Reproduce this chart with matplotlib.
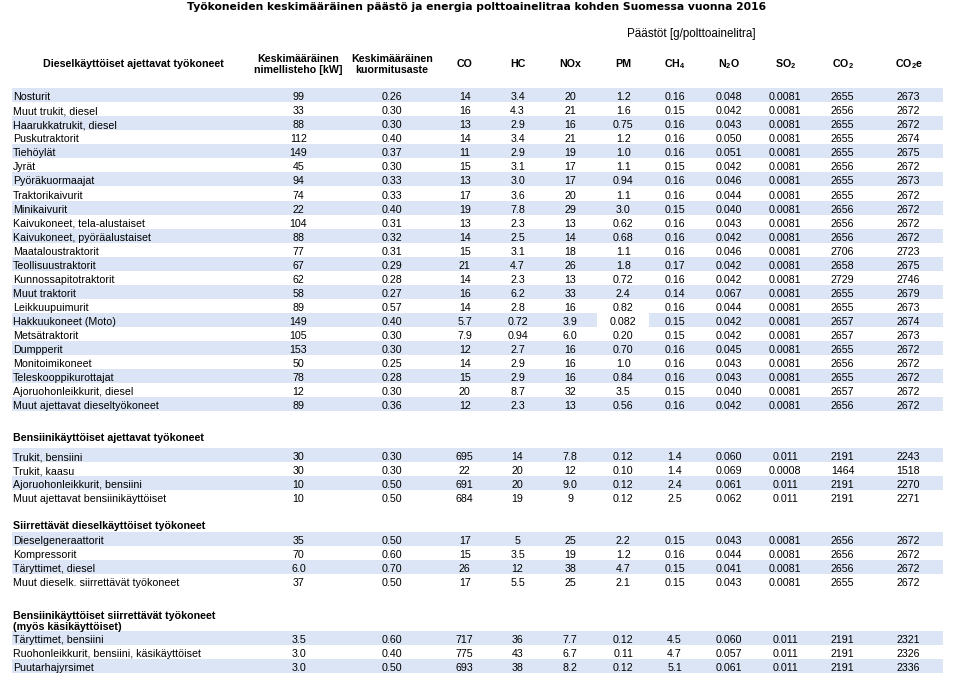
import matplotlib
matplotlib.use("Agg")
import matplotlib.pyplot as plt
from matplotlib.patches import Rectangle

plt.rcParams['font.family'] = ['Liberation Sans', 'DejaVu Sans']
plt.rcParams['mathtext.fontset'] = 'custom'
plt.rcParams['mathtext.rm'] = 'Liberation Sans'
plt.rcParams['mathtext.it'] = 'Liberation Sans:italic'
plt.rcParams['mathtext.bf'] = 'Liberation Sans:bold'
plt.rcParams['mathtext.default'] = 'regular'

# ---------------- data ----------------
title = "Työkoneiden keskimääräinen päästö ja energia polttoainelitraa kohden Suomessa vuonna 2016"
unit_label = "Päästöt [g/polttoainelitra]"
first_header = "Dieselkäyttöiset ajettavat työkoneet"
col_headers = ["Keskimääräinen\nnimellisteho [kW]", "Keskimääräinen\nkuormitusaste",
               "CO", "HC", "NOx", "PM", "CH$_4$", "N$_2$O", "SO$_2$", "CO$_2$", "CO$_2$e"]

diesel_names = ["Nosturit", "Muut trukit, diesel", "Haarukkatrukit, diesel", "Puskutraktorit",
                "Tiehöylät", "Jyrät", "Pyöräkuormaajat", "Traktorikaivurit", "Minikaivurit",
                "Kaivukoneet, tela-alustaiset", "Kaivukoneet, pyöräalustaiset", "Maataloustraktorit",
                "Teollisuustraktorit", "Kunnossapitotraktorit", "Muut traktorit", "Leikkuupuimurit",
                "Hakkuukoneet (Moto)", "Metsätraktorit", "Dumpperit", "Monitoimikoneet",
                "Teleskooppikurottajat", "Ajoruohonleikkurit, diesel", "Muut ajettavat dieseltyökoneet"]
diesel_values = [
    ["99", "0.26", "14", "3.4", "20", "1.2", "0.16", "0.048", "0.0081", "2655", "2673"],
    ["33", "0.30", "16", "4.3", "21", "1.6", "0.15", "0.042", "0.0081", "2656", "2672"],
    ["88", "0.30", "13", "2.9", "16", "0.75", "0.16", "0.043", "0.0081", "2655", "2672"],
    ["112", "0.40", "14", "3.4", "21", "1.2", "0.16", "0.050", "0.0081", "2655", "2674"],
    ["149", "0.37", "11", "2.9", "19", "1.0", "0.16", "0.051", "0.0081", "2655", "2675"],
    ["45", "0.30", "15", "3.1", "17", "1.1", "0.15", "0.042", "0.0081", "2656", "2672"],
    ["94", "0.33", "13", "3.0", "17", "0.94", "0.16", "0.046", "0.0081", "2655", "2673"],
    ["74", "0.33", "17", "3.6", "20", "1.1", "0.16", "0.044", "0.0081", "2655", "2672"],
    ["22", "0.40", "19", "7.8", "29", "3.0", "0.15", "0.040", "0.0081", "2656", "2672"],
    ["104", "0.31", "13", "2.3", "13", "0.62", "0.16", "0.043", "0.0081", "2656", "2672"],
    ["88", "0.32", "14", "2.5", "14", "0.68", "0.16", "0.042", "0.0081", "2656", "2672"],
    ["77", "0.31", "15", "3.1", "18", "1.1", "0.16", "0.046", "0.0081", "2706", "2723"],
    ["67", "0.29", "21", "4.7", "26", "1.8", "0.17", "0.042", "0.0081", "2658", "2675"],
    ["62", "0.28", "14", "2.3", "13", "0.72", "0.16", "0.042", "0.0081", "2729", "2746"],
    ["58", "0.27", "16", "6.2", "33", "2.4", "0.14", "0.067", "0.0081", "2655", "2679"],
    ["89", "0.57", "14", "2.8", "16", "0.82", "0.16", "0.044", "0.0081", "2655", "2673"],
    ["149", "0.40", "5.7", "0.72", "3.9", "0.082", "0.15", "0.042", "0.0081", "2657", "2674"],
    ["105", "0.30", "7.9", "0.94", "6.0", "0.20", "0.15", "0.042", "0.0081", "2657", "2673"],
    ["153", "0.30", "12", "2.7", "16", "0.70", "0.16", "0.045", "0.0081", "2655", "2672"],
    ["50", "0.25", "14", "2.9", "16", "1.0", "0.16", "0.043", "0.0081", "2656", "2672"],
    ["78", "0.28", "15", "2.9", "16", "0.84", "0.16", "0.043", "0.0081", "2655", "2672"],
    ["12", "0.30", "20", "8.7", "32", "3.5", "0.15", "0.040", "0.0081", "2657", "2672"],
    ["89", "0.36", "12", "2.3", "13", "0.56", "0.16", "0.042", "0.0081", "2656", "2672"],
]

petrol_title = "Bensiinikäyttöiset ajettavat työkoneet"
petrol_names = ["Trukit, bensiini", "Trukit, kaasu", "Ajoruohonleikkurit, bensiini",
                "Muut ajettavat bensiinikäyttöiset"]
petrol_values = [
    ["30", "0.30", "695", "14", "7.8", "0.12", "1.4", "0.060", "0.011", "2191", "2243"],
    ["30", "0.30", "22", "20", "12", "0.10", "1.4", "0.069", "0.0008", "1464", "1518"],
    ["10", "0.50", "691", "20", "9.0", "0.12", "2.4", "0.061", "0.011", "2191", "2270"],
    ["10", "0.50", "684", "19", "9", "0.12", "2.5", "0.062", "0.011", "2191", "2271"],
]

mobile_diesel_title = "Siirrettävät dieselkäyttöiset työkoneet"
mobile_diesel_names = ["Dieselgeneraattorit", "Kompressorit", "Täryttimet, diesel",
                       "Muut dieselk. siirrettävät työkoneet"]
mobile_diesel_values = [
    ["35", "0.50", "17", "5", "25", "2.2", "0.15", "0.043", "0.0081", "2656", "2672"],
    ["70", "0.60", "15", "3.5", "19", "1.2", "0.16", "0.044", "0.0081", "2656", "2672"],
    ["6.0", "0.70", "26", "12", "38", "4.7", "0.15", "0.041", "0.0081", "2656", "2672"],
    ["37", "0.50", "17", "5.5", "25", "2.1", "0.15", "0.043", "0.0081", "2655", "2672"],
]

mobile_petrol_title = "Bensiinikäyttöiset siirrettävät työkoneet\n(myös käsikäyttöiset)"
mobile_petrol_names = ["Täryttimet, bensiini", "Ruohonleikkurit, bensiini, käsikäyttöiset",
                       "Puutarhajyrsimet"]
mobile_petrol_values = [
    ["3.5", "0.60", "717", "36", "7.7", "0.12", "4.5", "0.060", "0.011", "2191", "2321"],
    ["3.0", "0.40", "775", "43", "6.7", "0.11", "4.7", "0.057", "0.011", "2191", "2326"],
    ["3.0", "0.50", "693", "38", "8.2", "0.12", "5.1", "0.061", "0.011", "2191", "2336"],
]

# ---------------- layout / style ----------------
W, H = 955, 674
BAND = "#dbe5f5"
TXT = "#000000"
FS = 7.65
col_x = [298.5, 392.0, 464.7, 517.5, 570.3, 623.2, 674.5, 729.0, 785.2, 842.7, 908.5]
name_x = 13.0
band_x0, band_x1 = 12.0, 943.0
row_step = 14.03
band_h = 14.0

fig = plt.figure(figsize=(W / 100, H / 100), dpi=100)
ax = fig.add_axes([0, 0, 1, 1])
ax.set_xlim(0, W)
ax.set_ylim(H, 0)
ax.axis("off")

ax.text(477, 9.6, title, fontsize=7.73, fontweight="bold", family="DejaVu Sans",
        ha="center", va="baseline", color=TXT)
ax.text(691, 37.4, unit_label, fontsize=8.4, ha="center", va="baseline", color=TXT)
ax.text(133, 64.3, first_header, fontsize=FS, fontweight="bold", ha="center",
        va="center", color=TXT)
for i, h in enumerate(col_headers):
    if "\n" in h:
        ax.text(col_x[i], 64.8, h, fontsize=FS, fontweight="bold", ha="center",
                va="center", linespacing=1.1, color=TXT)
    else:
        ax.text(col_x[i], 67.2, h, fontsize=FS, fontweight="bold", ha="center",
                va="baseline", color=TXT)

# white gap in PM cell of the harvester row
gap_cells = {"Hakkuukoneet (Moto)": (597.0, 649.0)}


def draw_section(names, values, top0, head=None, head_base=None):
    if head is not None:
        ax.text(name_x, head_base, head, fontsize=FS, fontweight="bold", ha="left",
                va="baseline", linespacing=1.1, color=TXT)
    for r, (nm, vals) in enumerate(zip(names, values)):
        top = top0 + r * row_step
        if r % 2 == 0:
            if nm in gap_cells:
                g0, g1 = gap_cells[nm]
                ax.add_patch(Rectangle((band_x0, top), g0 - band_x0, band_h,
                                       facecolor=BAND, edgecolor="none"))
                ax.add_patch(Rectangle((g1, top), band_x1 - g1, band_h,
                                       facecolor=BAND, edgecolor="none"))
            else:
                ax.add_patch(Rectangle((band_x0, top), band_x1 - band_x0, band_h,
                                       facecolor=BAND, edgecolor="none"))
        base = top + 12.0
        ax.text(name_x, base, nm, fontsize=FS, ha="left", va="baseline", color=TXT)
        for c, v in enumerate(vals):
            ax.text(col_x[c], base, v, fontsize=FS, ha="center", va="baseline", color=TXT)


draw_section(diesel_names, diesel_values, 88.3)
draw_section(petrol_names, petrol_values, 448.3, petrol_title, 441.4)
draw_section(mobile_diesel_names, mobile_diesel_values, 532.3, mobile_diesel_title, 529.4)
draw_section(mobile_petrol_names, mobile_petrol_values, 630.7, mobile_petrol_title, 629.5)

fig.savefig("out.png", dpi=100, facecolor="white")
